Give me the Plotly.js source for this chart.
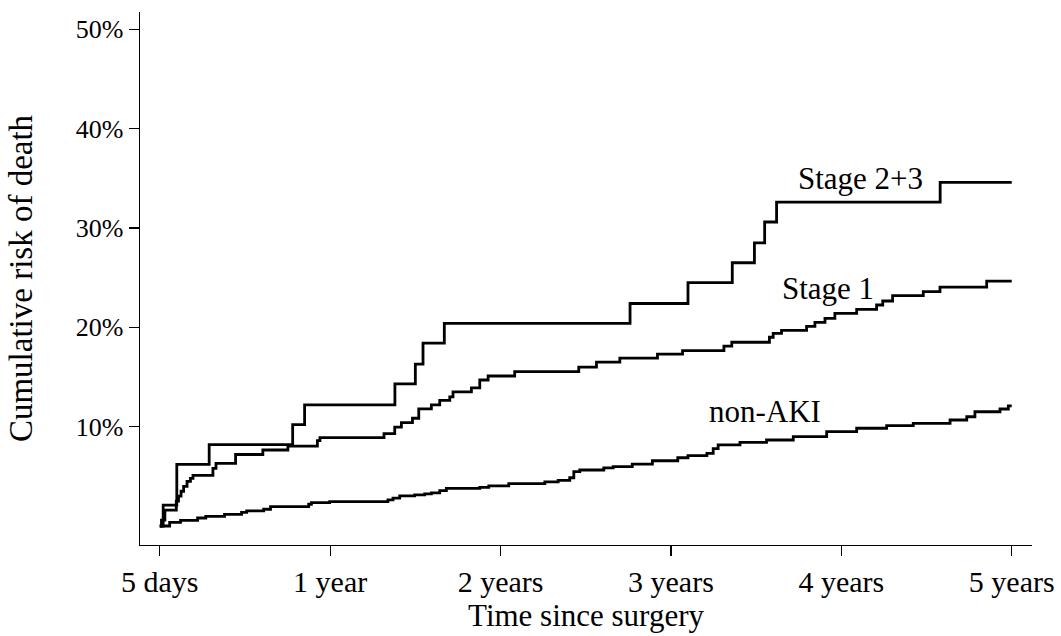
<!DOCTYPE html>
<html>
<head>
<meta charset="utf-8">
<script src="https://cdn.plot.ly/plotly-3.0.1.min.js"></script>
<style>
  html, body { margin: 0; padding: 0; background: #ffffff; }
  #chart { width: 1061px; height: 636px; }
</style>
</head>
<body>
<div id="chart"></div>
<script>
// Time since surgery (years, 0 = the 5-day landmark) and cumulative risk of death (%)
const stage23_t = [0, 0.02, 0.10, 0.29, 0.78, 0.85, 1.38, 1.50, 1.545, 1.67, 2.76, 3.10, 3.36, 3.49, 3.55, 3.62, 4.58, 5.0];
const stage23_risk = [0, 2.1, 6.2, 8.2, 10.2, 12.2, 14.3, 16.3, 18.4, 20.4, 22.4, 24.5, 26.5, 28.5, 30.6, 32.6, 34.6, 34.6];

const stage1_t = [0, 0.01, 0.03, 0.097, 0.11, 0.125, 0.14, 0.16, 0.18, 0.195, 0.312, 0.33, 0.445, 0.605, 0.752, 0.925, 0.94, 1.316, 1.379, 1.418, 1.483, 1.52, 1.594, 1.643, 1.702, 1.721, 1.829, 1.878, 1.927, 2.083, 2.459, 2.563, 2.70, 2.921, 3.068, 3.311, 3.357, 3.578, 3.60, 3.649, 3.796, 3.845, 3.904, 3.962, 4.09, 4.207, 4.243, 4.301, 4.481, 4.579, 4.853, 5.0];
const stage1_risk = [0, 0.6, 1.6, 2.5, 3.0, 3.5, 4.0, 4.5, 4.8, 5.1, 5.8, 6.3, 7.2, 7.65, 8.05, 8.6, 8.9, 9.3, 9.95, 10.4, 10.85, 11.8, 12.2, 12.65, 13.0, 13.5, 13.9, 14.7, 15.1, 15.55, 16.0, 16.5, 16.9, 17.3, 17.65, 18.1, 18.5, 19.0, 19.4, 19.7, 20.1, 20.5, 20.9, 21.4, 21.8, 22.25, 22.65, 23.2, 23.6, 24.05, 24.65, 24.65];

const nonaki_t = [0, 0.058, 0.122, 0.222, 0.27, 0.38, 0.48, 0.51, 0.61, 0.65, 0.874, 0.89, 0.997, 1.339, 1.369, 1.408, 1.496, 1.555, 1.594, 1.643, 1.682, 1.878, 1.931, 2.048, 2.26, 2.338, 2.406, 2.43, 2.465, 2.606, 2.661, 2.773, 2.891, 3.04, 3.10, 3.211, 3.248, 3.277, 3.405, 3.561, 3.718, 3.914, 4.09, 4.266, 4.422, 4.638, 4.736, 4.784, 4.931, 4.98, 5.0];
const nonaki_risk = [0, 0.36, 0.56, 0.81, 0.97, 1.17, 1.37, 1.52, 1.69, 1.95, 2.19, 2.35, 2.45, 2.63, 2.8, 3.03, 3.13, 3.23, 3.33, 3.56, 3.78, 3.9, 4.05, 4.27, 4.44, 4.6, 4.86, 5.47, 5.64, 5.85, 5.98, 6.23, 6.57, 6.87, 7.08, 7.32, 7.8, 8.16, 8.41, 8.66, 9.0, 9.5, 9.84, 10.1, 10.34, 10.67, 11.0, 11.5, 11.78, 12.1, 12.1];

const xTickVals = [0, 1, 2, 3, 4, 5];
const xTickText = ["5 days", "1 year", "2 years", "3 years", "4 years", "5 years"];
const yTickVals = [10, 20, 30, 40, 50];
const yTickText = ["10%", "20%", "30%", "40%", "50%"];

const seriesNames = ["Stage 2+3", "Stage 1", "non-AKI"];
const labelX = [4.115, 3.92, 3.554];
const labelY = [35.0, 23.95, 11.48];

const FONT = "Liberation Serif, Times New Roman, serif";
const lineStyle = {color: "#000000", width: 2.8, shape: "hv"};

const data = [
  {x: stage23_t, y: stage23_risk, name: seriesNames[0], type: "scatter", mode: "lines", line: lineStyle, hoverinfo: "skip"},
  {x: stage1_t, y: stage1_risk, name: seriesNames[1], type: "scatter", mode: "lines", line: lineStyle, hoverinfo: "skip"},
  {x: nonaki_t, y: nonaki_risk, name: seriesNames[2], type: "scatter", mode: "lines", line: lineStyle, hoverinfo: "skip"}
];

const annotations = seriesNames.map((n, i) => ({
  x: labelX[i], y: labelY[i], xref: "x", yref: "y",
  text: n, showarrow: false, xanchor: "center", yanchor: "middle",
  font: {family: FONT, size: 31, color: "#000000"}
}));

const layout = {
  width: 1061, height: 636,
  paper_bgcolor: "#ffffff", plot_bgcolor: "#ffffff",
  showlegend: false,
  margin: {l: 140, r: 29, t: 12, b: 91, pad: 0},
  font: {family: FONT, size: 28, color: "#000000"},
  xaxis: {
    range: [-0.116, 5.119],
    tickvals: xTickVals, ticktext: xTickText,
    ticks: "outside", ticklen: 10, tickwidth: 1.2, tickcolor: "#000000",
    showline: true, linecolor: "#000000", linewidth: 1.3,
    showgrid: false, zeroline: false,
    tickfont: {family: FONT, size: 30, color: "#000000"},
    title: {text: "Time since surgery", font: {family: FONT, size: 31, color: "#000000"}, standoff: 4}
  },
  yaxis: {
    range: [-1.91, 51.74],
    tickvals: yTickVals, ticktext: yTickText,
    ticks: "outside", ticklen: 10, tickwidth: 1.2, tickcolor: "#000000",
    showline: true, linecolor: "#000000", linewidth: 1.3,
    showgrid: false, zeroline: false,
    tickfont: {family: FONT, size: 26, color: "#000000"},
    title: {text: "Cumulative risk of death", font: {family: FONT, size: 33, color: "#000000"}, standoff: 33}
  },
  annotations: annotations
};

Plotly.newPlot("chart", data, layout, {displayModeBar: false, staticPlot: true});
</script>
</body>
</html>
